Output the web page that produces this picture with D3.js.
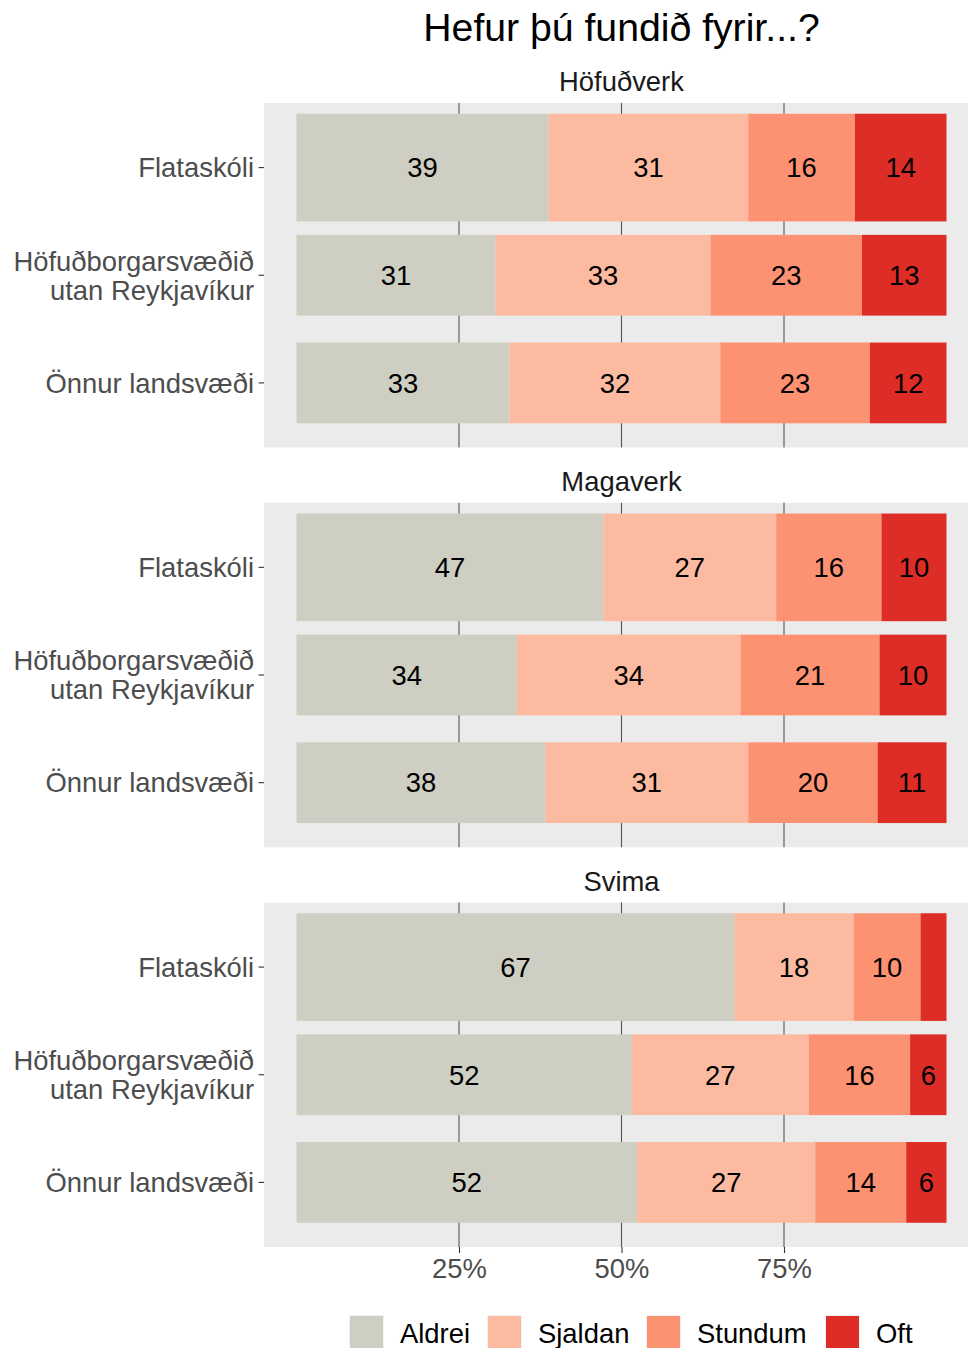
<!DOCTYPE html>
<html>
<head>
<meta charset="utf-8">
<script src="https://cdn.jsdelivr.net/npm/d3@7"></script>
<style>
  html, body { margin: 0; padding: 0; background: #fff; }
  svg { display: block; font-family: "Liberation Sans", Arial, sans-serif; }
</style>
</head>
<body>
<svg id="chart" width="968" height="1348"></svg>
<script>
// ---- data ----
const title = "Hefur þú fundið fyrir...?";
const facets = ["Höfuðverk", "Magaverk", "Svima"];
const regions = ["Flataskóli", "Höfuðborgarsvæðið\nutan Reykjavíkur", "Önnur landsvæði"];
const categories = ["Aldrei", "Sjaldan", "Stundum", "Oft"];
const colors = ["#CECEC2", "#FCBBA1", "#FC9272", "#DE2D26"];
// values (%) per facet x region, in facet order then region order
const aldrei  = [38.8, 30.6, 32.8,  47.2, 33.9, 38.3,  67.4, 51.6, 52.4];
const sjaldan = [30.7, 33.1, 32.4,  26.6, 34.4, 31.2,  18.3, 27.2, 27.4];
const stundum = [16.4, 23.3, 23.0,  16.2, 21.4, 19.9,  10.3, 15.6, 14.0];
const oft     = [14.1, 13.0, 11.8,  10.0, 10.3, 10.6,   4.0,  5.6,  6.2];
const xTicks = [25, 50, 75];
const xTickLabels = ["25%", "50%", "75%"];

// ---- layout ----
const svg = d3.select("#chart");
const panelLeft = 264, panelRight = 979;
const panelTops = [103, 502.75, 902.5];
const panelH = 344.5;
const barWidthFrac = [1, 0.75, 0.75];
const fontMain = 27.4;

const x = d3.scaleLinear().domain([0, 100]).range([296.5, 946.5]);

const series = [aldrei, sjaldan, stundum, oft];

// title
svg.append("text")
  .attr("x", (panelLeft + panelRight) / 2)
  .attr("y", 41)
  .attr("text-anchor", "middle")
  .attr("font-size", 39.2)
  .attr("fill", "#000")
  .text(title);

facets.forEach((facet, fi) => {
  const top = panelTops[fi];
  const y = d3.scalePoint().domain(regions).range([top, top + panelH]).padding(0.6);
  const step = y.step();
  const g = svg.append("g");

  // strip label
  g.append("text")
    .attr("x", (panelLeft + panelRight) / 2)
    .attr("y", top - 12)
    .attr("text-anchor", "middle")
    .attr("font-size", fontMain)
    .attr("fill", "#1A1A1A")
    .text(facet);

  // panel background
  g.append("rect")
    .attr("x", panelLeft).attr("y", top)
    .attr("width", panelRight - panelLeft).attr("height", panelH)
    .attr("fill", "#EBEBEB");

  // grid lines
  g.selectAll("line.grid").data(xTicks).join("line")
    .attr("x1", d => x(d)).attr("x2", d => x(d))
    .attr("y1", top).attr("y2", top + panelH)
    .attr("stroke", "#555").attr("stroke-width", 1.1);

  // bars
  regions.forEach((reg, ri) => {
    const idx = fi * 3 + ri;
    const vals = series.map(s => s[idx]);
    const h = step * barWidthFrac[ri];
    const yc = y(reg);
    let cum = 0;
    vals.forEach((v, ci) => {
      const x0 = x(cum), x1 = x(cum + v);
      g.append("rect")
        .attr("x", x0).attr("y", yc - h / 2)
        .attr("width", x1 - x0).attr("height", h)
        .attr("fill", colors[ci]);
      if (v >= 5) {
        g.append("text")
          .attr("x", (x0 + x1) / 2)
          .attr("y", yc + 9.8)
          .attr("text-anchor", "middle")
          .attr("font-size", fontMain)
          .attr("fill", "#000")
          .text(Math.round(v));
      }
      cum += v;
    });
  });

  // y axis ticks and labels
  regions.forEach(reg => {
    const yc = y(reg);
    g.append("line")
      .attr("x1", 258.5).attr("x2", panelLeft)
      .attr("y1", yc).attr("y2", yc)
      .attr("stroke", "#333").attr("stroke-width", 1.1);
    const lines = reg.split("\n");
    const lh = 29;
    const t = g.append("text")
      .attr("text-anchor", "end")
      .attr("font-size", fontMain)
      .attr("fill", "#4D4D4D");
    lines.forEach((ln, li) => {
      const off = (li - (lines.length - 1) / 2) * lh;
      t.append("tspan")
        .attr("x", 254)
        .attr("y", yc + off + 9.8)
        .text(ln);
    });
  });

  // bottom x axis on last panel
  if (fi === facets.length - 1) {
    const bottom = top + panelH;
    const ax = svg.append("g").attr("transform", `translate(0,${bottom})`)
      .call(d3.axisBottom(x).tickValues(xTicks).tickFormat((d, i) => xTickLabels[i]).tickSize(6).tickPadding(4));
    ax.select(".domain").remove();
    ax.selectAll(".tick line").attr("stroke", "#333").attr("stroke-width", 1.1);
    ax.selectAll(".tick text")
      .attr("font-size", fontMain)
      .attr("font-family", "Liberation Sans, Arial, sans-serif")
      .attr("fill", "#4D4D4D")
      .attr("dy", null)
      .attr("y", 1278 - bottom);
  }
});

// legend
const legendX = [350, 488, 647, 826];
const lg = svg.append("g");
categories.forEach((c, i) => {
  lg.append("rect")
    .attr("x", legendX[i] - 1).attr("y", 1315)
    .attr("width", 35).attr("height", 35)
    .attr("fill", "#F2F2F2");
  lg.append("rect")
    .attr("x", legendX[i]).attr("y", 1316)
    .attr("width", 33).attr("height", 33)
    .attr("fill", colors[i]);
  lg.append("text")
    .attr("x", legendX[i] + 50)
    .attr("y", 1343)
    .attr("font-size", fontMain)
    .attr("fill", "#000")
    .text(c);
});
</script>
</body>
</html>
